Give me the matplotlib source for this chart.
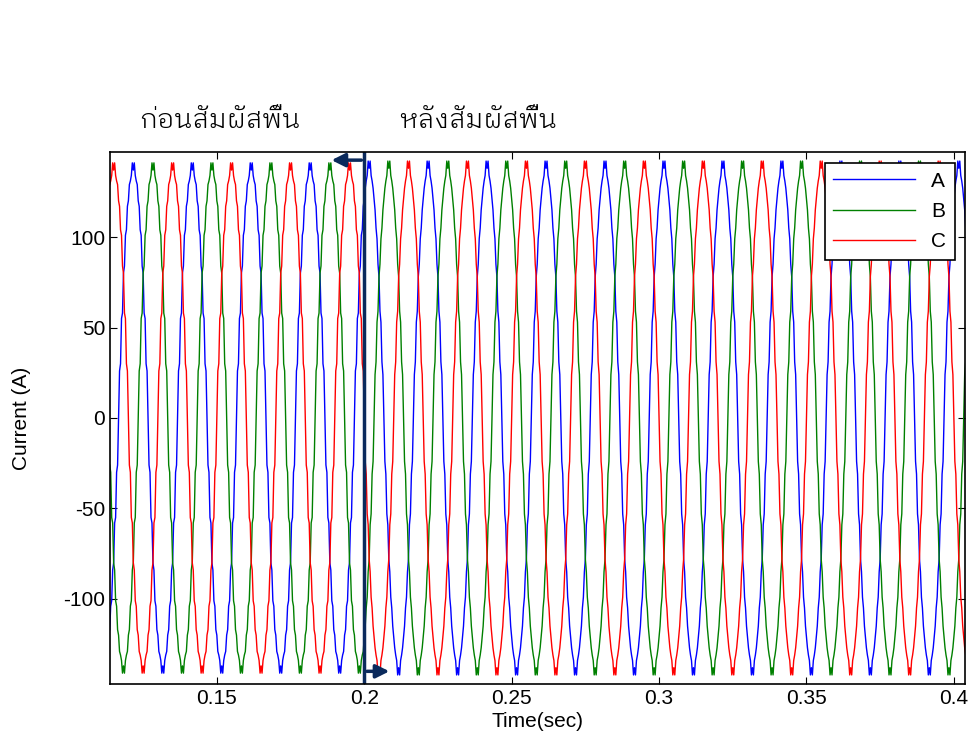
import numpy as np
import matplotlib
matplotlib.use('Agg')
import matplotlib.pyplot as plt

# ---------------------------------------------------------------------------
# Données
# ---------------------------------------------------------------------------

freq_hz = 50.0
t_start, t_end = 0.1138, 0.4038
t_contact = 0.2
t_peak_a = 0.0017          # instant d'un pic de la phase A (modulo 20 ms)

# quart d'onde (0..90 deg, pas de 6 deg), avant / après contact
quarter_pre = [137, 141, 134, 131, 129, 120, 117, 104, 101, 84, 80, 58, 55, 30, 26, 0]
quarter_post = [138, 142, 134, 131, 127, 121, 115, 105, 99, 85, 78, 59, 53, 31, 24, 0]

phase_names = ['A', 'B', 'C']
phase_colors = ['#0000ff', '#008000', '#ff0000']
phase_lag_deg = [0, 120, 240]

x_ticks = [0.15, 0.2, 0.25, 0.3, 0.35, 0.4]
x_tick_labels = ['0.15', '0.2', '0.25', '0.3', '0.35', '0.4']
y_ticks = [-100, -50, 0, 50, 100]
y_lim = (-147, 147)

label_before = 'ก่อนสัมผัสพื้น'
label_after = 'หลังสัมผัสพื้น'


def full_cycle(quarter):
    # symétries demi-onde et quart d'onde
    q = np.asarray(quarter, dtype=float)
    half = np.concatenate([q, -q[-2::-1]])          # 0..180 deg
    return np.concatenate([half, half[-2:0:-1]])    # 0..354 deg


cyc_pre = full_cycle(quarter_pre)
cyc_post = full_cycle(quarter_post)
n_per = len(cyc_pre)
dt = 1.0 / freq_hz / n_per

n0 = int(np.floor((t_start - t_peak_a) / dt))
n1 = int(np.ceil((t_end - t_peak_a) / dt))
n = np.arange(n0, n1 + 1)
t = t_peak_a + n * dt

plt.rcParams['font.family'] = ['Liberation Sans', 'DejaVu Sans']
plt.rcParams['axes.unicode_minus'] = False
fig = plt.figure(figsize=(9.71, 7.35), dpi=100)
ax = fig.add_axes([0.1133, 0.0694, 0.8805, 0.7238])

for name, col, lag in zip(phase_names, phase_colors, phase_lag_deg):
    idx = (n - int(round(lag / 360 * n_per))) % n_per
    y = np.where(t < t_contact, cyc_pre[idx], cyc_post[idx])
    ax.plot(t, y, color=col, lw=1.0, label=name)

ax.set_xlim(t_start, t_end)
ax.set_ylim(*y_lim)
ax.set_xticks(x_ticks)
ax.set_xticklabels(x_tick_labels)
ax.set_yticks(y_ticks)
ax.tick_params(direction='in', top=True, right=True, labelsize=15, length=5)
for s in ax.spines.values():
    s.set_linewidth(1.2)
ax.set_xlabel('Time(sec)', fontsize=15, labelpad=3)
ax.set_ylabel('Current (A)', fontsize=15)
ax.yaxis.set_label_coords(-0.093, 0.5)

# trait de contact + flèches
navy = '#0b2a5c'
ax.axvline(t_contact, color=navy, lw=2.5)
ax.annotate('', xy=(0.188, 142.5), xytext=(t_contact, 142.5),
            arrowprops=dict(arrowstyle='-|>,head_length=0.8,head_width=0.4', color=navy, lw=2.5))
ax.annotate('', xy=(0.2095, -140), xytext=(t_contact, -140),
            arrowprops=dict(arrowstyle='-|>,head_length=0.8,head_width=0.4', color=navy, lw=2.5))

leg = ax.legend(loc='upper right', bbox_to_anchor=(0.988, 0.979), borderaxespad=0,
                fancybox=False, edgecolor='black', framealpha=1, fontsize=15,
                handlelength=3.9, labelspacing=0.55)
leg.get_frame().set_linewidth(1.2)

thai = ['IBM Plex Sans Thai Looped', 'DejaVu Sans']
fig.text(220 / 971, 1 - 120 / 735, label_before, ha='center', va='center',
         fontsize=19.5, family=thai, weight=300)
fig.text(478 / 971, 1 - 120 / 735, label_after, ha='center', va='center',
         fontsize=19.5, family=thai, weight=300)

fig.savefig('out.png', dpi=100)
